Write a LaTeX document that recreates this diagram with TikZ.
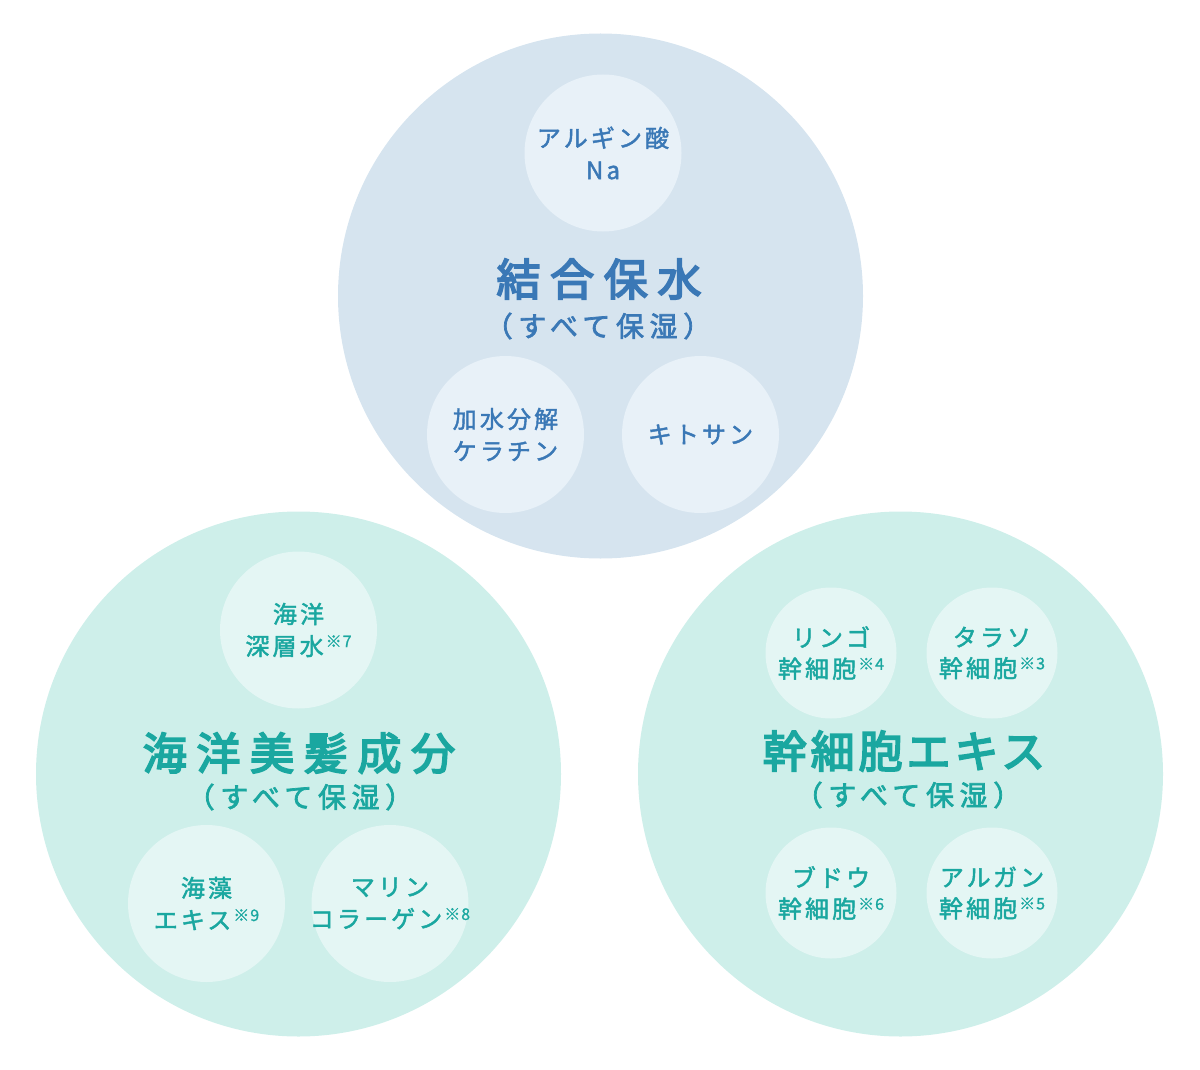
\documentclass[tikz,border=0pt]{standalone}
\usepackage{fontspec}
\newfontfamily\smallfont{Noto Sans CJK JP}[LetterSpace=13, FakeBold=1.8]
\newfontfamily\notefont{Noto Sans CJK JP}[LetterSpace=6, FakeBold=1]
\newfontfamily\titlefont{Noto Sans CJK JP}[LetterSpace=22, FakeBold=4]
\newfontfamily\titlefontR{Noto Sans CJK JP}[LetterSpace=9, FakeBold=4]
\newfontfamily\subfont{Noto Sans CJK JP}[LetterSpace=20, FakeBold=2.5]
\newcommand\refnote[1]{\hspace{2pt}\raisebox{8pt}{\notefont\fontsize{16}{16}\selectfont ※#1}}
\definecolor{bluebig}{HTML}{D6E4EF}
\definecolor{bluesmall}{HTML}{E8F1F8}
\definecolor{bluetext}{HTML}{3A78B6}
\definecolor{greenbig}{HTML}{CEEFEA}
\definecolor{greensmall}{HTML}{E4F6F4}
\definecolor{greentext}{HTML}{1AA7A0}
\begin{document}
\begin{tikzpicture}[x=1pt,y=-1pt,
  bigc/.style={circle, inner sep=0pt, minimum size=525pt},
  smallc/.style={circle, inner sep=-40pt, minimum size=157pt, align=center,
     font=\smallfont\fontsize{24}{32}\selectfont},
  smallerc/.style={circle, inner sep=-40pt, minimum size=131pt, align=center,
     font=\smallfont\fontsize{24}{31}\selectfont},
  titletext/.style={inner sep=0pt, font=\titlefont\fontsize{44}{44}\selectfont},
  titletextR/.style={inner sep=0pt, font=\titlefontR\fontsize{44}{44}\selectfont},
  subtext/.style={inner sep=0pt, font=\subfont\fontsize{28}{28}\selectfont}
]
\useasboundingbox (0,0) rectangle (1200,1070);
% top group
\node[bigc, fill=bluebig] (top) at (600.5,296) {};
\node[smallc, fill=bluesmall, text=bluetext] (alg) at (603,153) {アルギン酸\\Na};
\node[smallc, fill=bluesmall, text=bluetext] (ker) at (505.5,434.5) {加水分解\\ケラチン};
\node[smallc, fill=bluesmall, text=bluetext] (chi) at (700.5,434.5) {キトサン};
\node[titletext, text=bluetext] (toptitle) at (599,279) {結合保水};
\node[subtext, text=bluetext] (topsub) at (598,326) {（すべて保湿）};
% left group
\node[bigc, fill=greenbig] (left) at (298.5,774) {};
\node[smallc, fill=greensmall, text=greentext] (deep) at (298.5,630) {海洋\\深層水\refnote{7}};
\node[smallc, fill=greensmall, text=greentext] (alga) at (206.5,903.5) {海藻\\エキス\refnote{9}};
\node[smallc, fill=greensmall, text=greentext] (coll) at (390,903.5) {マリン\\コラーゲン\refnote{8}};
\node[titletext, text=greentext] (lefttitle) at (299,753) {海洋美髪成分};
\node[subtext, text=greentext] (leftsub) at (300,797) {（すべて保湿）};
% right group
\node[bigc, fill=greenbig] (right) at (900.5,774) {};
\node[smallerc, fill=greensmall, text=greentext] (apple) at (831,653) {リンゴ\\幹細胞\refnote{4}};
\node[smallerc, fill=greensmall, text=greentext] (thal) at (992,653) {タラソ\\幹細胞\refnote{3}};
\node[smallerc, fill=greensmall, text=greentext] (grape) at (831,893) {ブドウ\\幹細胞\refnote{6}};
\node[smallerc, fill=greensmall, text=greentext] (argan) at (992,893) {アルガン\\幹細胞\refnote{5}};
\node[titletextR, text=greentext] (righttitle) at (904,751) {幹細胞エキス};
\node[subtext, text=greentext] (rightsub) at (908,795) {（すべて保湿）};
\end{tikzpicture}
\end{document}
